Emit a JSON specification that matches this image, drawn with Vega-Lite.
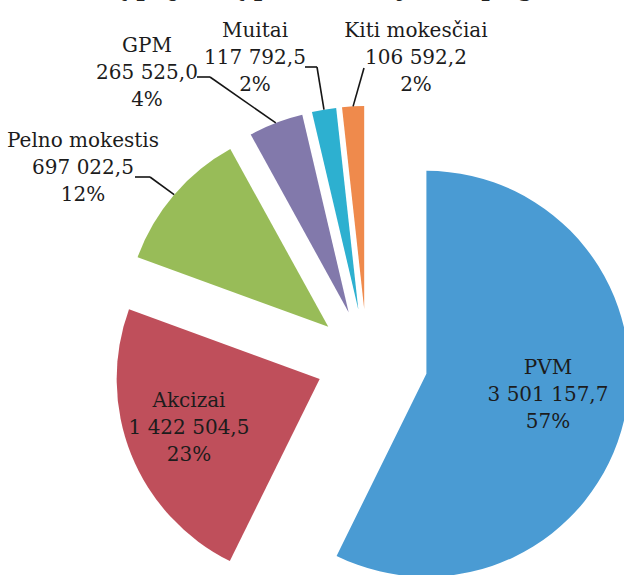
{
  "$schema": "https://vega.github.io/schema/vega-lite/v6.json",
  "width": 624,
  "height": 575,
  "autosize": {"type": "none"},
  "padding": 0,
  "background": "white",
  "config": {
    "view": {"stroke": null},
    "locale": {"number": {"decimal": ",", "thousands": " ", "grouping": [3], "currency": ["", ""]}}
  },
  "datasets": {
    "taxes": [
      {"category": "PVM", "value": 3501157.7, "pct": "57%"},
      {"category": "Akcizai", "value": 1422504.5, "pct": "23%"},
      {"category": "Pelno mokestis", "value": 697022.5, "pct": "12%"},
      {"category": "GPM", "value": 265525.0, "pct": "4%"},
      {"category": "Muitai", "value": 117792.5, "pct": "2%"},
      {"category": "Kiti mokesčiai", "value": 106592.2, "pct": "2%"}
    ],
    "heading": [
      {"text": "mokesčių pajamų pasiskirstymas pagal mokesčius"}
    ]
  },
  "data": {"name": "taxes"},
  "transform": [
    {"joinaggregate": [{"op": "sum", "field": "value", "as": "total"}]},
    {"window": [{"op": "sum", "field": "value", "as": "cum"}], "sort": [{"field": "value", "order": "descending"}], "frame": [null, 0]},
    {"calculate": "(datum.cum - datum.value) / datum.total", "as": "t0"},
    {"calculate": "datum.cum / datum.total", "as": "t1"},
    {"calculate": "PI * (datum.t0 + datum.t1)", "as": "mid"},
    {"calculate": "datum.category == 'PVM' ? 61 : 51", "as": "explode"},
    {"calculate": "datum.explode * sin(datum.mid)", "as": "cx"},
    {"calculate": "datum.explode * cos(datum.mid)", "as": "cy"},
    {"calculate": "datum.cx + 203 * sin(datum.mid)", "as": "mx"},
    {"calculate": "datum.cy + 203 * cos(datum.mid)", "as": "my"},
    {"calculate": "indexof(['PVM','Akcizai','Pelno mokestis','GPM','Muitai','Kiti mokesčiai'], datum.category)", "as": "idx"},
    {"calculate": "[181,-178,-284,-220,-112,49][datum.idx]", "as": "lx"},
    {"calculate": "[-8,-41,219,314,329,329][datum.idx]", "as": "ly"},
    {"calculate": "[0,0,-232,-170,-62,-3][datum.idx]", "as": "ax"},
    {"calculate": "[0,0,-217,-157,-50,-3][datum.idx]", "as": "bx"},
    {"calculate": "[0,0,183,283,293,292][datum.idx]", "as": "ay"},
    {"calculate": "datum.category + '\\n' + format(datum.value, ',.1f') + '\\n' + datum.pct", "as": "label"}
  ],
  "layer": [
    {
      "mark": {"type": "arc", "radius": 203},
      "encoding": {
        "x": {"field": "cx", "type": "quantitative", "scale": {"domain": [-367, 257], "nice": false, "zero": false}, "axis": null},
        "y": {"field": "cy", "type": "quantitative", "scale": {"domain": [-215, 360], "nice": false, "zero": false}, "axis": null},
        "theta": {"field": "t0", "type": "quantitative", "stack": null, "scale": {"domain": [0, 1], "zero": false, "nice": false}},
        "theta2": {"field": "t1"},
        "color": {
          "field": "category", "type": "nominal", "legend": null,
          "scale": {
            "domain": ["PVM", "Akcizai", "Pelno mokestis", "GPM", "Muitai", "Kiti mokesčiai"],
            "range": ["#4a9bd3", "#bf4f5b", "#98bc58", "#8279ab", "#2db0d0", "#ef8a4c"]
          }
        }
      }
    },
    {
      "transform": [{"filter": "datum.idx >= 2"}],
      "mark": {"type": "rule", "color": "#151515", "strokeWidth": 1.6},
      "encoding": {
        "x": {"field": "ax", "type": "quantitative"},
        "x2": {"field": "bx"},
        "y": {"field": "ay", "type": "quantitative"},
        "y2": {"field": "ay"}
      }
    },
    {
      "transform": [{"filter": "datum.idx >= 2"}],
      "mark": {"type": "rule", "color": "#151515", "strokeWidth": 1.6},
      "encoding": {
        "x": {"field": "bx", "type": "quantitative"},
        "x2": {"field": "mx"},
        "y": {"field": "ay", "type": "quantitative"},
        "y2": {"field": "my"}
      }
    },
    {
      "mark": {"type": "text", "font": "DejaVu Serif", "fontSize": 20, "lineHeight": 27, "lineBreak": "\n", "align": "center", "baseline": "middle", "color": "#1c1c1c"},
      "encoding": {
        "x": {"field": "lx", "type": "quantitative"},
        "y": {"field": "ly", "type": "quantitative"},
        "text": {"field": "label"}
      }
    },
    {
      "data": {"name": "heading"},
      "transform": [],
      "mark": {"type": "text", "font": "DejaVu Serif", "fontSize": 29, "align": "left", "baseline": "alphabetic", "color": "#222222"},
      "encoding": {
        "x": {"datum": -379, "type": "quantitative"},
        "y": {"datum": 365, "type": "quantitative"},
        "text": {"field": "text"}
      }
    }
  ]
}
